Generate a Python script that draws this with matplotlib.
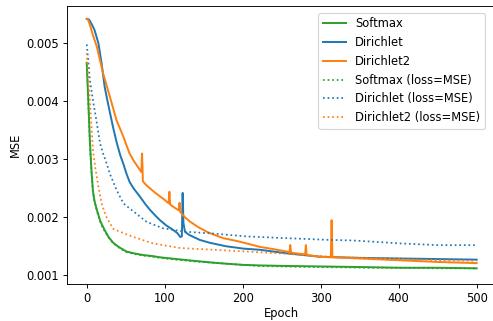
import numpy as np
import matplotlib
matplotlib.use("Agg")
import matplotlib.pyplot as plt

# --- values (epoch, MSE) ---
ep_soft = [0, 2, 4, 6, 8, 10, 13, 17, 20, 23, 28, 34, 42, 51, 60, 72, 85, 94, 115, 137,
           160, 179, 200, 222, 260, 312, 360, 400, 450, 500]
mse_soft = [0.00466, 0.00402, 0.00333, 0.00282, 0.00245, 0.00228, 0.00213, 0.00195,
            0.00186, 0.00178, 0.00166, 0.00156, 0.00148, 0.00141, 0.00138, 0.00135,
            0.00133, 0.00131, 0.00128, 0.00125, 0.00122, 0.00120, 0.00118, 0.00117,
            0.00116, 0.00115, 0.00114, 0.00113, 0.00113, 0.00112]

ep_dir = [0, 3, 6, 10, 15, 19, 23, 27, 30, 34, 38, 43, 47, 51, 55, 60, 68, 75, 81, 88,
          94, 102, 111, 116, 120, 122, 123, 124, 126, 131, 137, 145, 158, 179, 201,
          222, 256, 299, 350, 402, 450, 500]
mse_dir = [0.00542, 0.00541, 0.00534, 0.00523, 0.00500, 0.00466, 0.00425, 0.00398,
           0.00379, 0.00354, 0.00331, 0.00307, 0.00292, 0.00275, 0.00261, 0.00250,
           0.00236, 0.00223, 0.00213, 0.00203, 0.00195, 0.00186, 0.00178, 0.00173,
           0.00166, 0.00167, 0.00242, 0.00190, 0.00175, 0.00170, 0.00166, 0.00161,
           0.00156, 0.00150, 0.00146, 0.00144, 0.00138, 0.00132, 0.00130, 0.00129,
           0.00128, 0.00127]

ep_dir2 = [0, 2, 4, 8, 13, 17, 21, 26, 32, 38, 43, 47, 51, 55, 60, 64, 68, 70, 71, 72,
           76, 81, 88, 94, 100, 105, 106, 107, 111, 118, 119, 120, 126, 132, 143, 154,
           165, 175, 186, 196, 208, 222, 240, 256, 260, 261, 262, 280, 281, 282, 299,
           313, 314, 315, 350, 400, 450, 500]
mse_dir2 = [0.00542, 0.00540, 0.00532, 0.00514, 0.00494, 0.00471, 0.00448, 0.00425,
            0.00397, 0.00368, 0.00352, 0.00339, 0.00324, 0.00310, 0.00298, 0.00290,
            0.00282, 0.00278, 0.00310, 0.00262, 0.00256, 0.00250, 0.00242, 0.00236,
            0.00230, 0.00224, 0.00244, 0.00222, 0.00218, 0.00212, 0.00225, 0.00209,
            0.00200, 0.00193, 0.00183, 0.00175, 0.00169, 0.00164, 0.00161, 0.00158,
            0.00154, 0.00149, 0.00145, 0.00141, 0.00140, 0.00152, 0.00139, 0.00136,
            0.00152, 0.00135, 0.00132, 0.00131, 0.00195, 0.00131, 0.00129, 0.00126,
            0.00123, 0.00121]

ep_soft_mse = [0, 2, 4, 6, 8, 10, 13, 17, 20, 23, 28, 34, 42, 51, 60, 72, 85, 94, 115,
               137, 160, 179, 200, 222, 260, 312, 360, 400, 450, 500]
mse_soft_mse = [0.00468, 0.00398, 0.00330, 0.00280, 0.00243, 0.00226, 0.00211, 0.00193,
                0.00184, 0.00176, 0.00165, 0.00155, 0.00147, 0.00140, 0.00137, 0.00134,
                0.00132, 0.00130, 0.00127, 0.00124, 0.00122, 0.00120, 0.00118, 0.00116,
                0.00115, 0.00114, 0.00113, 0.00113, 0.00112, 0.00112]

ep_dir_mse = [0, 2, 4, 8, 13, 17, 21, 24, 30, 38, 47, 60, 77, 98, 128, 162, 205, 256,
              312, 342, 402, 450, 500]
mse_dir_mse = [0.00498, 0.00471, 0.00437, 0.00402, 0.00362, 0.00328, 0.00310, 0.00299,
               0.00274, 0.00248, 0.00224, 0.00210, 0.00192, 0.00181, 0.00175, 0.00172,
               0.00167, 0.00164, 0.00161, 0.00160, 0.00155, 0.00152, 0.00152]

ep_dir2_mse = [0, 2, 4, 8, 11, 15, 19, 25, 34, 43, 60, 85, 120, 162, 205, 256, 312,
               400, 450, 500]
mse_dir2_mse = [0.00483, 0.00440, 0.00402, 0.00316, 0.00285, 0.00253, 0.00224, 0.00201,
                0.00180, 0.00175, 0.00166, 0.00155, 0.00147, 0.00144, 0.00141, 0.00137,
                0.00132, 0.00128, 0.00126, 0.00125]

DPI = 83
fig = plt.figure(figsize=(493 / DPI, 321 / DPI), dpi=DPI)
ax = fig.add_axes([67.3 / 493, 37 / 321, 428.8 / 493, 278 / 321])

ax.plot(ep_soft, mse_soft, color='tab:green', lw=1.7, label='Softmax')
ax.plot(ep_dir, mse_dir, color='tab:blue', lw=1.7, label='Dirichlet')
ax.plot(ep_dir2, mse_dir2, color='tab:orange', lw=1.7, label='Dirichlet2')
ax.plot(ep_soft_mse, mse_soft_mse, ':', color='tab:green', lw=1.5, label='Softmax (loss=MSE)')
ax.plot(ep_dir_mse, mse_dir_mse, ':', color='tab:blue', lw=1.5, label='Dirichlet (loss=MSE)')
ax.plot(ep_dir2_mse, mse_dir2_mse, ':', color='tab:orange', lw=1.5, label='Dirichlet2 (loss=MSE)')

ax.set_xlim(-24.9, 524.9)
ax.set_ylim(0.00085, 0.005643)
ax.set_xticks([0, 100, 200, 300, 400, 500])
ax.set_yticks([0.001, 0.002, 0.003, 0.004, 0.005])
ax.set_xlabel('Epoch', labelpad=1.5)
ax.set_ylabel('MSE')
ax.legend(loc='upper right', bbox_to_anchor=(485 / 493, 1 - 12.7 / 321),
          bbox_transform=fig.transFigure, borderaxespad=0)

fig.savefig('out.png', dpi=DPI)
